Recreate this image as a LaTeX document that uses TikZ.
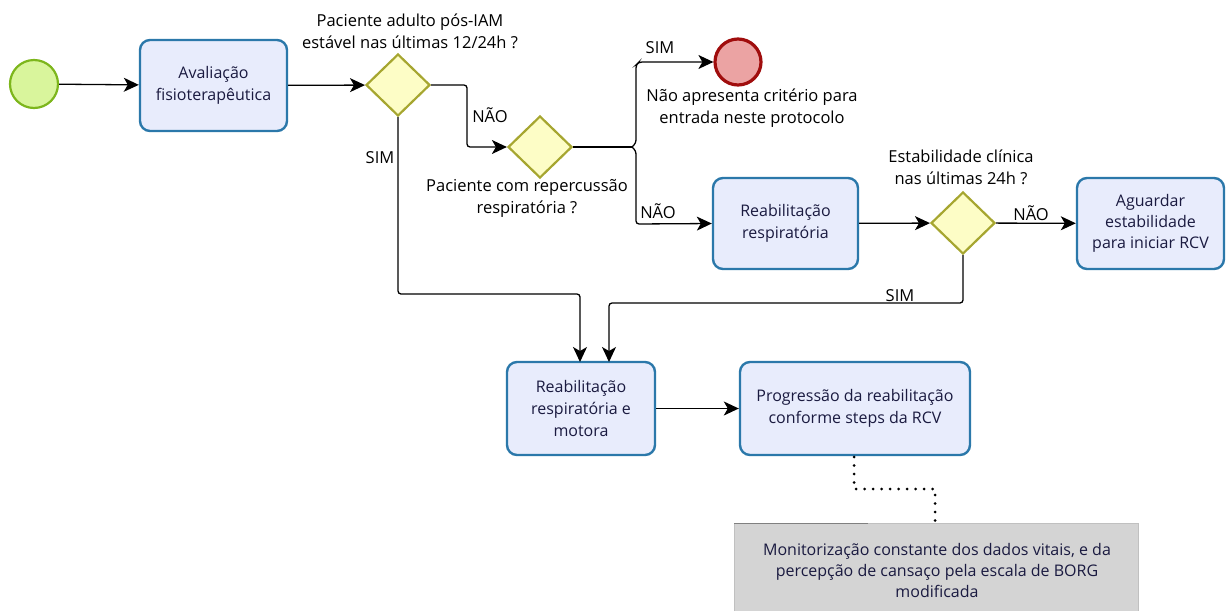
\documentclass[tikz,border=0pt]{standalone}
\usepackage{fontspec}
\setmainfont{Open Sans}
\usetikzlibrary{shapes.geometric,arrows.meta}
\definecolor{boxfill}{HTML}{E8ECFC}
\definecolor{boxline}{HTML}{2B78AA}
\definecolor{startfill}{HTML}{D9F59C}
\definecolor{startline}{HTML}{7DB61C}
\definecolor{gwfill}{HTML}{FDFDC6}
\definecolor{gwline}{HTML}{A6A630}
\definecolor{endfill}{HTML}{EBA3A3}
\definecolor{endline}{HTML}{A00D0D}
\definecolor{annfill}{HTML}{D4D4D4}
\definecolor{annline}{HTML}{C0C0C0}
\definecolor{txt}{HTML}{1A1A40}
\tikzset{
  task/.style={draw=boxline, fill=boxfill, line width=2.4pt, rounded corners=10pt,
    align=center, text=txt, font=\fontsize{16}{22}\selectfont, inner sep=0pt},
  gw/.style={diamond, draw=gwline, fill=gwfill, line width=2.2pt, minimum width=64pt,
    minimum height=62pt, inner sep=0pt},
  startev/.style={circle, draw=startline, fill=startfill, line width=2.2pt, minimum size=48pt, inner sep=0pt},
  endev/.style={circle, draw=endline, fill=endfill, line width=3.2pt, minimum size=46pt, inner sep=0pt},
  flow/.style={draw=black, line width=1.3pt, rounded corners=3pt, -{Stealth[length=15pt,width=14pt,inset=4pt]}},
  plain/.style={draw=black, line width=1.3pt, rounded corners=3pt},
  lbl/.style={font=\fontsize{16.5}{22}\selectfont, align=center, text=black, inner sep=0pt},
}
\begin{document}
\begin{tikzpicture}[x=1pt,y=-1pt]
\useasboundingbox (0,0) rectangle (1226,611);
% events and tasks
\node[startev] (start) at (34,84) {};
\node[task, minimum width=147pt, minimum height=91pt] (aval) at (213.5,85.5) {Avaliação\\fisioterapêutica};
\node[gw] (g1) at (398,85) {};
\node[gw] (g2) at (540,147) {};
\node[endev] (end) at (738,62) {};
\node[task, minimum width=145pt, minimum height=91pt] (rresp) at (785.5,223.5) {Reabilitação\\respiratória};
\node[gw] (g3) at (963,223) {};
\node[task, minimum width=147pt, minimum height=91pt, font=\fontsize{16}{21}\selectfont] (aguard) at (1150.5,223.5) {Aguardar\\estabilidade\\para iniciar RCV};
\node[task, minimum width=148pt, minimum height=93pt] (rmot) at (581,408.5) {Reabilitação\\respiratória e\\motora};
\node[task, minimum width=230pt, minimum height=93pt] (prog) at (855,408.5) {Progressão da reabilitação\\conforme steps da RCV};
% annotation
\fill[annfill] (734,523) rectangle (1138,611);
\draw[annline, line width=1pt] (734,611) -- (734,523) -- (1138,523) -- (1138,611);
\draw[gray, line width=1pt] (734,523) -- (868,523);
\node[lbl, font=\fontsize{16}{21}\selectfont, text=txt] (ann) at (937,570) {Monitorização constante dos dados vitais, e da\\percepção de cansaço pela escala de BORG\\modificada};
\coordinate (annTop) at (935,523);
% labels
\node[lbl] (l1) at (410,31) {Paciente adulto pós-IAM\\estável nas últimas 12/24h ?};
\node[lbl] (l2) at (527,198) {Paciente com repercussão\\respiratória ?};
\node[lbl] (l3) at (752,108) {Não apresenta critério para\\entrada neste protocolo};
\node[lbl] (l4) at (961,167) {Estabilidade clínica\\nas últimas 24h ?};
% connectors
\draw[flow] (start) -- (aval);
\draw[flow] (aval) -- (g1);
\draw[flow] (g1.east) -- (467,85) -- (467,147) -- (g2.west);
\node[lbl] at (490,115) {NÃO};
\coordinate (jn) at (632,147);
\draw[plain] (g2.east) -- (jn);
\draw[flow] (jn) -- (636,143) -- (636,65) -- (639,62) -- (end.west);
\draw[flow] (jn) -- (636,151) -- (636,224) -- (rresp.west);
\node[lbl] at (660,48) {SIM};
\node[lbl] at (658,211) {NÃO};
\draw[flow] (rresp) -- (g3);
\draw[flow] (g3) -- (aguard);
\node[lbl] at (1031,213) {NÃO};
\draw[flow] (g3.south) -- (963,303) -- (609,303) -- (609,362);
\node[lbl] at (900,296) {SIM};
\draw[flow] (g1.south) -- (398,294) -- (580,294) -- (580,362);
\node[lbl] at (380,158) {SIM};
\draw[flow] (rmot) -- (prog);
\draw[black, line width=3pt, line cap=round, dash pattern=on 0pt off 8.5pt] (854,457) -- (854,489) -- (935,489) -- (annTop);
\end{tikzpicture}
\end{document}
